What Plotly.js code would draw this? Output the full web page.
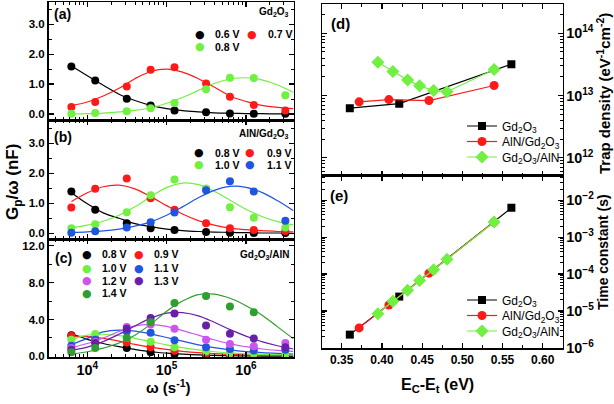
<!DOCTYPE html>
<html><head><meta charset="utf-8">
<script src="https://cdn.plot.ly/plotly-3.0.1.min.js"></script>
<style>body{margin:0;padding:0;background:#fff}#chart{width:614px;height:404px}</style>
</head><body><div id="chart"></div><script>
// ---------- DATA ----------
// angular frequencies of measured points (s^-1)
const omega = [6283, 12566, 31416, 62832, 125664, 314159, 628319, 1256637, 3141593];
// angular frequencies at which the fitted curves were read
const fitOmega = [6310, 10000, 15850, 25120, 39810, 63100, 100000, 158500, 251200, 398100, 631000, 1000000, 1585000, 2512000, 3981000];

// (a) Gd2O3
const a06 = [1.59,1.12,0.51,0.28,0.12,0.06,0.02,0.01,0.01];
const a07 = [0.23,0.40,0.92,1.48,1.56,1.02,0.58,0.30,0.12];
const a08 = [0.01,0.03,0.09,0.19,0.37,0.83,1.21,1.20,0.63];
const a06fit = [1.60,1.28,0.96,0.66,0.45,0.29,0.18,0.11,0.07,0.04,0.025,0.015,0.01,0.005,0.0];
const a07fit = [0.28,0.40,0.60,0.86,1.18,1.42,1.50,1.40,1.18,0.90,0.60,0.42,0.29,0.22,0.18];
const a08fit = [0.0,0.01,0.03,0.07,0.12,0.21,0.36,0.55,0.79,1.02,1.17,1.21,1.14,0.97,0.72];

// (b) AlN/Gd2O3
const b08 = [1.39,0.78,0.33,0.17,0.11,0.04,0.02,0.01,0.01];
const b09 = [0.86,1.48,1.82,1.17,0.78,0.33,0.17,0.11,0.08];
const b10 = [0.17,0.30,0.70,1.27,1.79,1.49,0.87,0.52,0.19];
const b11 = [0.02,0.07,0.19,0.37,0.69,1.43,1.73,1.39,0.42];
const b08fit = [1.35,0.98,0.68,0.50,0.32,0.22,0.14,0.09,0.06,0.04,0.03,0.02,0.01,0.01,0.0];
const b09fit = [1.06,1.35,1.55,1.60,1.48,1.22,0.92,0.64,0.42,0.27,0.17,0.12,0.09,0.06,0.05];
const b10fit = [0.18,0.27,0.40,0.60,0.88,1.22,1.52,1.67,1.62,1.40,1.10,0.80,0.56,0.39,0.28];
const b11fit = [0.03,0.05,0.08,0.14,0.24,0.38,0.60,0.88,1.18,1.43,1.56,1.53,1.36,1.08,0.75];

// (c) Gd2O3/AlN
const c08 = [2.30,1.55,0.91,0.44,0.25,0.10,0.05,0.03,0.02];
const c09 = [2.20,2.00,1.50,1.00,0.60,0.30,0.18,0.15,0.10];
const c10 = [1.80,2.44,2.00,1.60,1.00,0.55,0.36,0.30,0.20];
const c11 = [1.16,1.80,2.70,2.55,1.75,1.00,0.80,0.65,0.72];
const c12 = [0.90,1.60,3.20,3.45,3.00,1.80,1.35,1.10,1.45];
const c13 = [0.73,1.45,3.00,4.15,4.65,3.35,2.45,1.95,1.00];
const c14 = [0.44,0.90,2.00,3.70,5.80,6.55,5.40,4.80,null];
const c08fit = [2.45,1.85,1.40,1.05,0.75,0.50,0.35,0.24,0.16,0.10,0.07,0.05,0.03,0.02,0.01];
const c09fit = [2.20,2.15,1.95,1.65,1.30,1.00,0.75,0.55,0.40,0.30,0.22,0.17,0.13,0.10,0.08];
const c10fit = [1.80,2.30,2.40,2.25,1.95,1.60,1.25,0.95,0.70,0.50,0.37,0.28,0.22,0.18,0.15];
const c11fit = [1.30,1.95,2.65,2.85,2.75,2.45,2.05,1.65,1.25,0.95,0.70,0.52,0.40,0.32,0.26];
const c12fit = [0.95,1.40,2.00,2.70,3.30,3.45,3.25,2.80,2.30,1.80,1.35,1.05,0.80,0.65,0.55];
const c13fit = [0.65,1.00,1.60,2.40,3.30,4.15,4.70,4.75,4.40,3.70,2.90,2.20,1.60,1.15,0.80];
const c14fit = [0.25,0.50,0.90,1.45,2.30,3.50,4.90,6.00,6.70,6.75,6.30,5.50,4.50,3.20,1.90];

// (d),(e) energy, trap density, time constant
const eGd = [0.360, 0.4215, 0.561];
const ditGd = [6.25e12, 7.4e12, 3.19e13];
const tauGd = [2.3e-6, 2.46e-5, 6.2e-3];
const eAlnGd = [0.3716, 0.4086, 0.4585, 0.5395];
const ditAlnGd = [7.9e12, 8.6e12, 8.3e12, 1.45e13];
const tauAlnGd = [3.5e-6, 1.46e-5, 1.06e-4, 2.57e-3];
const eGdAln = [0.3949, 0.4136, 0.4319, 0.4468, 0.4643, 0.4809, 0.5395];
const ditGdAln = [3.43e13, 2.43e13, 1.77e13, 1.43e13, 1.2e13, 1.15e13, 2.62e13];
const tauGdAln = [8.45e-6, 1.84e-5, 3.66e-5, 6.7e-5, 1.31e-4, 2.51e-4, 2.57e-3];

// ---------- STYLE ----------
const W = 614, H = 404;
const FONT = 'Liberation Sans, Arial, sans-serif';
const C = {k:'#000000', r:'#ff1a1a', g:'#70f040', b:'#1f55e0', m:'#cc55ee', p:'#6a1fa8', dg:'#2e9e2e'};
const px = x => x / W, py = y => 1 - y / H;

const traces = [];
function panel(xa, ya, sets) {
  sets.forEach(s => {
    traces.push({x: fitOmega, y: s.fit, mode: 'lines', line: {color: s.c, width: 1.2, shape: 'spline'},
      xaxis: xa, yaxis: ya, showlegend: false, hoverinfo: 'skip'});
  });
  sets.forEach(s => {
    traces.push({x: omega, y: s.pts, mode: 'markers', marker: {color: s.c, size: 8},
      xaxis: xa, yaxis: ya, showlegend: false});
  });
}
panel('x', 'y', [{pts:a06, fit:a06fit, c:C.k}, {pts:a07, fit:a07fit, c:C.r}, {pts:a08, fit:a08fit, c:C.g}]);
panel('x2', 'y2', [{pts:b08, fit:b08fit, c:C.k}, {pts:b09, fit:b09fit, c:C.r}, {pts:b10, fit:b10fit, c:C.g}, {pts:b11, fit:b11fit, c:C.b}]);
panel('x3', 'y3', [{pts:c08, fit:c08fit, c:C.k}, {pts:c09, fit:c09fit, c:C.r}, {pts:c10, fit:c10fit, c:C.g},
  {pts:c11, fit:c11fit, c:C.b}, {pts:c12, fit:c12fit, c:C.m}, {pts:c13, fit:c13fit, c:C.p}, {pts:c14, fit:c14fit, c:C.dg}]);

const nGd = 'Gd<sub>2</sub>O<sub>3</sub>';
const nAlnGd = 'AlN/Gd<sub>2</sub>O<sub>3</sub>';
const nGdAln = 'Gd<sub>2</sub>O<sub>3</sub>/AlN';
const rightSeries = [
  {x:eGd, d:ditGd, t:tauGd, name:nGd, c:C.k, sym:'square', size:8},
  {x:eAlnGd, d:ditAlnGd, t:tauAlnGd, name:nAlnGd, c:C.r, sym:'circle', size:9},
  {x:eGdAln, d:ditGdAln, t:tauGdAln, name:nGdAln, c:C.g, sym:'diamond', size:10}
];
rightSeries.forEach((s, i) => {
  traces.push({x:s.x, y:s.d, name:s.name, mode:'lines+markers', line:{color:s.c, width:1.2},
    marker:{color:s.c, symbol:s.sym, size:s.size}, xaxis:'x4', yaxis:'y4',
    legend: i === 0 ? 'legend' : 'legend' + (i + 1)});
  traces.push({x:s.x, y:s.t, name:s.name, mode:'lines+markers', line:{color:s.c, width:1.2},
    marker:{color:s.c, symbol:s.sym, size:s.size}, xaxis:'x5', yaxis:'y5',
    legend: 'legend' + (i + 4)});
});

// ---------- AXES ----------
const tf = (s) => ({family: FONT, size: s, color: '#000', weight: 'bold'});
function ax(extra) {
  return Object.assign({showline:true, linewidth:1.5, linecolor:'#000', mirror:'ticks', ticks:'inside',
    ticklen:5, tickwidth:1.2, tickcolor:'#000', showgrid:false, zeroline:false, fixedrange:true}, extra);
}
const LX = [px(48.5), px(293.5)], RX = [px(322), px(562.5)];
const logX = (dom, anchor, show) => ax({type:'log', range:[3.51, 6.6], dtick:1, exponentformat:'power',
  domain:dom, anchor:anchor, showticklabels:show, tickfont:tf(11.5),
  minor:{ticks:'inside', ticklen:3, tickwidth:1, dtick:'D1', showgrid:false, tickcolor:'#000'}});
const linY = (dom, anchor, range, dt) => ax({range:range, dtick:dt, tick0:0, tickformat:'.1f', domain:dom, anchor:anchor,
  tickfont:tf(11.5), minor:{ticks:'inside', ticklen:3, tickwidth:1, dtick:dt/2, showgrid:false, tickcolor:'#000'}});
const linE = (dom, anchor, show) => ax({range:[0.3254, 0.6246], dtick:0.05, tick0:0.35, tickformat:'.2f',
  domain:dom, anchor:anchor, showticklabels:show, tickfont:tf(12),
  minor:{ticks:'inside', ticklen:3, tickwidth:1, dtick:0.025, showgrid:false, tickcolor:'#000'}});
const logY = (dom, anchor, range) => ax({type:'log', range:range, dtick:1, exponentformat:'power', side:'right',
  domain:dom, anchor:anchor, tickfont:tf(11.5),
  minor:{ticks:'inside', ticklen:3, tickwidth:1, dtick:'D1', showgrid:false, tickcolor:'#000'}});

const layout = {
  width: W, height: H, margin: {l:0, r:0, t:0, b:0}, paper_bgcolor:'#fff', plot_bgcolor:'rgba(0,0,0,0)',
  font: {family: FONT, color:'#000'},
  xaxis: logX(LX, 'y', false),
  yaxis: linY([py(120), py(2)], 'x', [-0.2, 3.74], 1),
  xaxis2: logX(LX, 'y2', false),
  yaxis2: linY([py(239.3), py(120)], 'x2', [-0.2, 3.77], 1),
  xaxis3: logX(LX, 'y3', true),
  yaxis3: linY([py(357.3), py(239.3)], 'x3', [-0.1, 12.7], 4),
  xaxis4: linE(RX, 'y4', false),
  yaxis4: logY([py(175.8), py(4)], 'x4', [11.71, 14.47]),
  xaxis5: linE(RX, 'y5', true),
  yaxis5: logY([py(348), py(175.8)], 'x5', [-6, -1.34]),
  annotations: [],
  showlegend: true
};
// single-item legends for (d) and (e)
const legY = [126, 141.5, 157, 300, 315.5, 331];
legY.forEach((y, i) => {
  layout[i === 0 ? 'legend' : 'legend' + (i + 1)] = {x: px(462), y: py(y), xanchor:'left', yanchor:'middle',
    bgcolor:'rgba(0,0,0,0)', borderwidth:0, font:{family:FONT, size:12, color:'#000'}, itemwidth:30};
});

const A = layout.annotations;
function txt(x, y, text, size, opts) {
  A.push(Object.assign({xref:'paper', yref:'paper', x:px(x), y:py(y), text:text, showarrow:false,
    xanchor:'left', yanchor:'middle', font:{family:FONT, size:size, color:'#000'}}, opts || {}));
}
function dot(x, y, color) { txt(x, y, '●', 11, {xanchor:'center', font:{family:'DejaVu Sans', size:11, color:color}}); }

// panel labels
txt(52, 14, '<b>(a)</b>', 14); txt(52, 137, '<b>(b)</b>', 14); txt(53, 258, '<b>(c)</b>', 14);
txt(329, 23, '<b>(d)</b>', 15); txt(328, 195, '<b>(e)</b>', 15);
// sample names
txt(291, 12, '<b>Gd<sub>2</sub>O<sub>3</sub></b>', 10, {xanchor:'right'});
txt(291, 134, '<b>AlN/Gd<sub>2</sub>O<sub>3</sub></b>', 10, {xanchor:'right'});
txt(291, 255, '<b>Gd<sub>2</sub>O<sub>3</sub>/AlN</b>', 10, {xanchor:'right'});
// legend (a)
dot(200, 34.5, C.k); txt(213, 34.5, '<b>0.6 V</b>', 10.5);
dot(252, 34.5, C.r); txt(266, 34.5, '<b>0.7 V</b>', 10.5);
dot(200, 46.8, C.g); txt(213, 46.8, '<b>0.8 V</b>', 10.5);
// legend (b)
dot(199, 152.7, C.k); txt(213, 152.7, '<b>0.8 V</b>', 10.5);
dot(250, 152.7, C.r); txt(265, 152.7, '<b>0.9 V</b>', 10.5);
dot(199, 164.5, C.g); txt(213, 164.5, '<b>1.0 V</b>', 10.5);
dot(250, 164.5, C.b); txt(265, 164.5, '<b>1.1 V</b>', 10.5);
// legend (c)
const cl = [[C.k,'0.8 V',C.r,'0.9 V'],[C.g,'1.0 V',C.b,'1.1 V'],[C.m,'1.2 V',C.p,'1.3 V'],[C.dg,'1.4 V',null,null]];
const cy = [254.3, 268.3, 280.8, 293.3];
cl.forEach((r, i) => {
  dot(87.3, cy[i], r[0]); txt(100, cy[i], '<b>' + r[1] + '</b>', 10.5);
  if (r[2]) { dot(139, cy[i], r[2]); txt(151.7, cy[i], '<b>' + r[3] + '</b>', 10.5); }
});
// axis titles
txt(14, 182, '<b>G<sub>p</sub>/ω (nF)</b>', 17, {xanchor:'center', textangle:-90});
txt(168, 386, '<b>ω (s<sup>-1</sup>)</b>', 15, {xanchor:'center'});
txt(437, 385, '<b>E<sub>C</sub>-E<sub>t</sub> (eV)</b>', 16, {xanchor:'center'});
txt(603, 94, '<b>Trap density (eV<sup>-1</sup>cm<sup>-2</sup>)</b>', 15, {xanchor:'center', textangle:-90});
txt(603, 252, '<b>Time constant (s)</b>', 14, {xanchor:'center', textangle:-90});

Plotly.newPlot('chart', traces, layout, {staticPlot:true, displayModeBar:false});
</script></body></html>
